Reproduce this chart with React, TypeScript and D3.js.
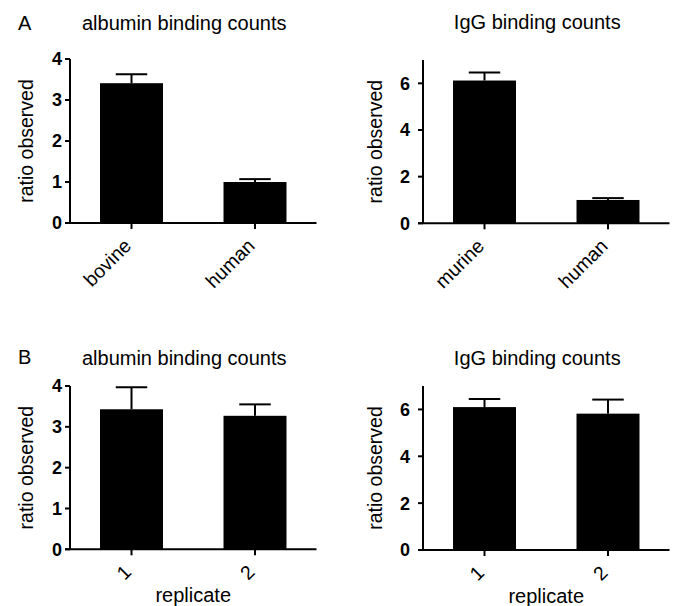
import React from 'react';
import * as d3 from 'd3';

// Panel A: albumin
const albuminSpecies = ['bovine', 'human'];
const albuminRatio = [3.41, 1.0];
const albuminErr = [0.22, 0.07];

// Panel A: IgG
const iggSpecies = ['murine', 'human'];
const iggRatio = [6.12, 1.0];
const iggErr = [0.34, 0.08];

// Panel B: replicates
const replicates = ['1', '2'];
const albuminRepRatio = [3.43, 3.27];
const albuminRepErr = [0.54, 0.28];
const iggRepRatio = [6.1, 5.82];
const iggRepErr = [0.34, 0.6];

const albuminTicks = [0, 1, 2, 3, 4];
const iggTicks = [0, 2, 4, 6];

const FONT = '"Liberation Sans", Arial, Helvetica, sans-serif';

type PanelProps = {
  left: number;
  top: number;
  bottom: number;
  yMax: number;
  ticks: number[];
  cats: string[];
  values: number[];
  errs: number[];
  title: string;
  titleY: number;
  tickGap: number;
  yLabelGap: number;
  letter?: string;
  letterY?: number;
  xTitle?: string;
};

const Panel = ({ left, top, bottom, yMax, ticks, cats, values, errs, title, titleY, tickGap, yLabelGap, letter, letterY, xTitle }: PanelProps) => {
  const right = left + 246.5;
  const x = d3.scaleBand<string>()
    .domain(cats)
    .range([left, right])
    .paddingInner(0.49)
    .paddingOuter(0.243);
  const y = d3.scaleLinear().domain([0, yMax]).range([bottom, top]);
  const bw = x.bandwidth();
  const mid = (left + right) / 2;

  return (
    <g>
      {letter && (
        <text x={18} y={letterY} fontSize={20} fontFamily={FONT}>{letter}</text>
      )}
      <text x={mid - 9} y={titleY} textAnchor="middle" fontSize={20} fontFamily={FONT}>{title}</text>

      {/* bars + error bars */}
      {cats.map((c, i) => {
        const cx = (x(c) as number) + bw / 2;
        const yt = y(values[i] + errs[i]);
        return (
          <g key={c}>
            <rect x={x(c)} y={y(values[i])} width={bw} height={bottom - y(values[i])} fill="#000" />
            <line x1={cx} x2={cx} y1={y(values[i])} y2={yt} stroke="#000" strokeWidth={2} />
            <line x1={cx - bw / 4} x2={cx + bw / 4} y1={yt} y2={yt} stroke="#000" strokeWidth={2} />
          </g>
        );
      })}

      {/* y axis */}
      <line x1={left} x2={left} y1={y(yMax)} y2={bottom} stroke="#000" strokeWidth={2} />
      {ticks.map(t => (
        <g key={t}>
          <line x1={left - 5} x2={left} y1={y(t)} y2={y(t)} stroke="#000" strokeWidth={2} />
          <text x={left - tickGap} y={y(t)} dy="0.36em" textAnchor="end" fontSize={18} fontWeight="bold" fontFamily={FONT}>{t}</text>
        </g>
      ))}
      <text
        transform={`translate(${left - yLabelGap},${(y(yMax) + bottom) / 2}) rotate(-90)`}
        textAnchor="middle"
        fontSize={19.5}
        fontFamily={FONT}
      >ratio observed</text>

      {/* x axis */}
      <line x1={left - 5} x2={right} y1={bottom} y2={bottom} stroke="#000" strokeWidth={2} />
      {cats.map(c => {
        const cx = (x(c) as number) + bw / 2;
        return (
          <g key={c}>
            <line x1={cx} x2={cx} y1={bottom} y2={bottom + 6} stroke="#000" strokeWidth={2} />
            <text
              transform={`translate(${cx + 1},${bottom + 24}) rotate(-45)`}
              textAnchor="end"
              fontSize={19.5}
              fontFamily={FONT}
            >{c}</text>
          </g>
        );
      })}
      {xTitle && (
        <text x={mid} y={bottom + 53} textAnchor="middle" fontSize={20} fontFamily={FONT}>{xTitle}</text>
      )}
    </g>
  );
};

export default function App() {
  return (
    <svg width={676} height={606} style={{ position: 'absolute', left: 0, top: 0, background: '#fff' }}>
      <rect width={676} height={606} fill="#fff" />
      <Panel left={70} top={59} bottom={223} yMax={4} ticks={albuminTicks}
        cats={albuminSpecies} values={albuminRatio} errs={albuminErr}
        title="albumin binding counts" titleY={30} letter="A" letterY={30}
        tickGap={8} yLabelGap={37} />
      <Panel left={423} top={60} bottom={223.3} yMax={7} ticks={iggTicks}
        cats={iggSpecies} values={iggRatio} errs={iggErr}
        title="IgG binding counts" titleY={29} tickGap={13} yLabelGap={41} />
      <Panel left={70} top={386} bottom={549.3} yMax={4} ticks={albuminTicks}
        cats={replicates} values={albuminRepRatio} errs={albuminRepErr}
        title="albumin binding counts" titleY={365} letter="B" letterY={364} xTitle="replicate"
        tickGap={8} yLabelGap={37} />
      <Panel left={423} top={386} bottom={550} yMax={7} ticks={iggTicks}
        cats={replicates} values={iggRepRatio} errs={iggRepErr}
        title="IgG binding counts" titleY={365} xTitle="replicate" tickGap={13} yLabelGap={41} />
    </svg>
  );
}
